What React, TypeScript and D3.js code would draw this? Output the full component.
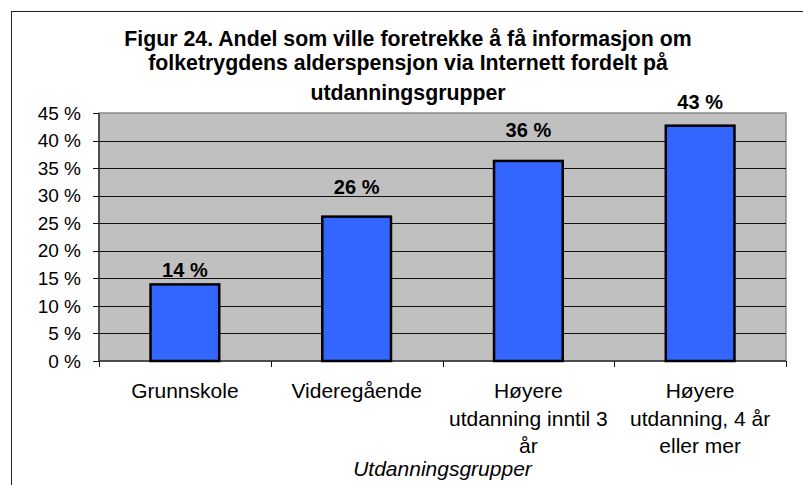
import React, { useRef, useEffect } from 'react';
import * as d3 from 'd3';

const categories = [
  ['Grunnskole'],
  ['Videregående'],
  ['Høyere', 'utdanning inntil 3', 'år'],
  ['Høyere', 'utdanning, 4 år', 'eller mer'],
];
const values = [13.9, 26.2, 36.3, 42.7];
const valueLabels = ['14 %', '26 %', '36 %', '43 %'];
const yTicks = [0, 5, 10, 15, 20, 25, 30, 35, 40, 45];
const titleLines = [
  'Figur 24. Andel som ville foretrekke å få informasjon om',
  'folketrygdens alderspensjon via Internett fordelt på',
  'utdanningsgrupper',
];
const xTitle = 'Utdanningsgrupper';

const W = 803;
const H = 485;
const FONT = '"Liberation Sans", Arial, sans-serif';
// gap between bar top and its value label, as placed in the original
const labelGap = [7, 23, 24, 17];

export default function App() {
  const svgRef = useRef<SVGSVGElement>(null);

  useEffect(() => {
    if (!svgRef.current) return;
    const svg = d3.select(svgRef.current);
    svg.selectAll('*').remove();

    const plot = { left: 99, top: 113, right: 786, bottom: 361 };

    // outer chart border
    svg.append('rect')
      .attr('x', 11.5).attr('y', 11.5)
      .attr('width', W).attr('height', H)
      .attr('fill', '#fff')
      .attr('stroke', '#222').attr('stroke-width', 1);

    // title
    const titleY = [46, 70, 100];
    svg.append('g').selectAll('text')
      .data(titleLines)
      .enter()
      .append('text')
      .attr('x', 408)
      .attr('y', (d, i) => titleY[i])
      .attr('text-anchor', 'middle')
      .attr('font-family', FONT)
      .attr('font-weight', 'bold')
      .attr('font-size', '21.3px')
      .attr('fill', '#000')
      .text(d => d);

    const x = d3.scaleBand<number>()
      .domain(d3.range(categories.length))
      .range([plot.left, plot.right])
      .paddingInner(0.6)
      .paddingOuter(0.3);

    const xOuter = d3.scaleBand<number>()
      .domain(d3.range(categories.length))
      .range([plot.left, plot.right]);

    const y = d3.scaleLinear().domain([0, 45]).range([plot.bottom, plot.top]);

    // plot background
    svg.append('rect')
      .attr('x', plot.left).attr('y', plot.top)
      .attr('width', plot.right - plot.left)
      .attr('height', plot.bottom - plot.top)
      .attr('fill', '#c0c0c0')
      .attr('stroke', '#8a8a8a').attr('stroke-width', 1.5);

    // gridlines
    svg.append('g').selectAll('line')
      .data(yTicks.filter(t => t > 0 && t < 45))
      .enter()
      .append('line')
      .attr('x1', plot.left).attr('x2', plot.right)
      .attr('y1', d => Math.round(y(d)) + 0.5)
      .attr('y2', d => Math.round(y(d)) + 0.5)
      .attr('stroke', '#111').attr('stroke-width', 1);

    // y axis
    const yAxis = svg.append('g');
    yAxis.append('line')
      .attr('x1', plot.left).attr('x2', plot.left)
      .attr('y1', plot.top).attr('y2', plot.bottom)
      .attr('stroke', '#333').attr('stroke-width', 1.5);
    yAxis.selectAll('.tick')
      .data(yTicks)
      .enter()
      .append('line')
      .attr('x1', plot.left - 6).attr('x2', plot.left)
      .attr('y1', d => Math.round(y(d)) + 0.5)
      .attr('y2', d => Math.round(y(d)) + 0.5)
      .attr('stroke', '#111');
    yAxis.selectAll('text')
      .data(yTicks)
      .enter()
      .append('text')
      .attr('x', 81)
      .attr('y', d => y(d))
      .attr('dy', '0.35em')
      .attr('text-anchor', 'end')
      .attr('font-family', FONT)
      .attr('font-size', '19px')
      .attr('fill', '#000')
      .text(d => `${d} %`);

    // x axis
    const xAxis = svg.append('g');
    xAxis.append('line')
      .attr('x1', plot.left).attr('x2', plot.right)
      .attr('y1', plot.bottom).attr('y2', plot.bottom)
      .attr('stroke', '#333').attr('stroke-width', 1.5);
    const bounds = d3.range(categories.length + 1).map(i =>
      i < categories.length ? xOuter(i)! : plot.right);
    xAxis.selectAll('.tick')
      .data(bounds)
      .enter()
      .append('line')
      .attr('x1', d => Math.round(d) + 0.5).attr('x2', d => Math.round(d) + 0.5)
      .attr('y1', plot.bottom).attr('y2', plot.bottom + 6)
      .attr('stroke', '#111');

    categories.forEach((lines, i) => {
      const cx = xOuter(i)! + xOuter.bandwidth() / 2;
      lines.forEach((line, j) => {
        xAxis.append('text')
          .attr('x', cx)
          .attr('y', 398 + j * 27.5)
          .attr('text-anchor', 'middle')
          .attr('font-family', FONT)
          .attr('font-size', '21px')
          .attr('fill', '#000')
          .text(line);
      });
    });

    svg.append('text')
      .attr('x', (plot.left + plot.right) / 2)
      .attr('y', 476)
      .attr('text-anchor', 'middle')
      .attr('font-family', FONT)
      .attr('font-style', 'italic')
      .attr('font-size', '21px')
      .attr('fill', '#000')
      .text(xTitle);

    // bars
    svg.append('g').selectAll('rect')
      .data(values)
      .enter()
      .append('rect')
      .attr('x', (d, i) => x(i)!)
      .attr('y', d => y(d))
      .attr('width', x.bandwidth())
      .attr('height', d => plot.bottom - y(d))
      .attr('fill', '#3366ff')
      .attr('stroke', '#000')
      .attr('stroke-width', 2.5);

    // value labels
    svg.append('g').selectAll('text')
      .data(values)
      .enter()
      .append('text')
      .attr('x', (d, i) => x(i)! + x.bandwidth() / 2)
      .attr('y', (d, i) => y(d) - labelGap[i])
      .attr('text-anchor', 'middle')
      .attr('font-family', FONT)
      .attr('font-weight', 'bold')
      .attr('font-size', '20px')
      .attr('fill', '#000')
      .text((d, i) => valueLabels[i]);
  }, []);

  return (
    <svg
      ref={svgRef}
      width={W}
      height={H}
      style={{ position: 'absolute', left: 0, top: 0, background: '#fff' }}
    />
  );
}
